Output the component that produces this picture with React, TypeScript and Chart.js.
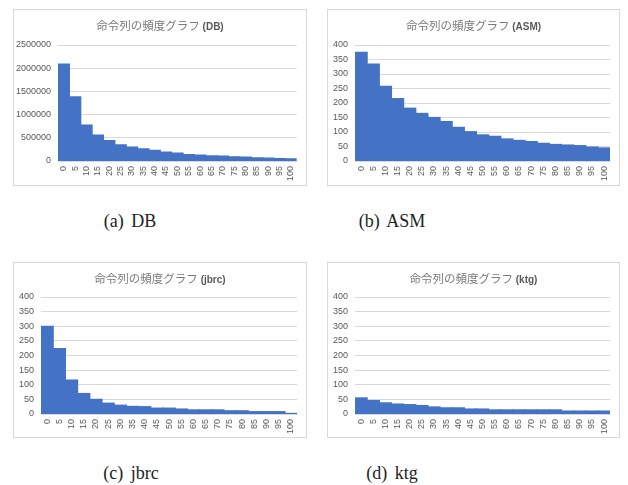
import React, { useEffect, useRef } from "react";
import { Chart, registerables } from "chart.js";

Chart.register(...registerables);

const CATEGORIES = ["0", "5", "10", "15", "20", "25", "30", "35", "40", "45", "50", "55", "60", "65", "70", "75", "80", "85", "90", "95", "100"];

const DB_VALUES = [2090000, 1380000, 776000, 560000, 440000, 350000, 300000, 260000, 230000, 190000, 170000, 140000, 125000, 110000, 105000, 90000, 85000, 70000, 65000, 50000, 45000];
const ASM_VALUES = [375, 334, 257, 215, 182, 164, 150, 136, 116, 101, 90, 85, 76, 71, 67, 61, 57, 55, 53, 48, 45];
const JBRC_VALUES = [300, 224, 116, 70, 50, 37, 30, 26, 25, 20, 20, 17, 14, 14, 14, 11, 11, 8, 8, 8, 2];
const KTG_VALUES = [55, 46, 38, 34, 32, 29, 24, 21, 21, 17, 17, 14, 14, 14, 14, 14, 14, 10, 10, 10, 10];

const TITLE_PREFIX = "命令列の頻度グラフ";
const TICK_FONT = { family: "'Liberation Sans', Arial, sans-serif", size: 9 };
const TICK_COLOR = "#595959";
const GRID_COLOR = "#d9d9d9";
const BAR_COLOR = "#4472C4";

type PanelProps = {
  name: string;
  values: number[];
  yMax: number;
  step: number;
  left: number;
  top: number;
  width: number;
  height: number;
  plotLeft: number;
  plotRight: number;
  plotTop: number;
  plotBottom: number;
};

function Panel(p: PanelProps) {
  const ref = useRef<HTMLCanvasElement | null>(null);
  useEffect(() => {
    if (!ref.current) return;
    const yWidth = p.plotLeft;
    const xHeight = p.height - p.plotBottom;
    const chart = new Chart(ref.current, {
      type: "bar",
      data: {
        labels: CATEGORIES,
        datasets: [
          {
            data: p.values,
            backgroundColor: BAR_COLOR,
            borderWidth: 0,
            inflateAmount: 0.6,
            barPercentage: 1,
            categoryPercentage: 1,
          },
        ],
      },
      options: {
        responsive: false,
        animation: false,
        devicePixelRatio: 1,
        layout: {
          padding: { left: 0, right: p.width - p.plotRight, top: p.plotTop, bottom: 0 },
        },
        plugins: {
          legend: { display: false },
          title: { display: false },
          tooltip: { enabled: false },
        },
        scales: {
          x: {
            grid: { display: false, drawTicks: false },
            border: { display: true, color: GRID_COLOR },
            ticks: {
              minRotation: 90,
              maxRotation: 90,
              autoSkip: false,
              padding: 5,
              color: TICK_COLOR,
              font: TICK_FONT,
            },
            afterFit: (s: any) => {
              s.height = xHeight;
            },
          },
          y: {
            min: 0,
            max: p.yMax,
            grid: { color: GRID_COLOR, drawTicks: false },
            border: { display: false },
            ticks: {
              stepSize: p.step,
              padding: 7,
              color: TICK_COLOR,
              font: TICK_FONT,
              callback: (v: any) => String(v),
            },
            afterFit: (s: any) => {
              s.width = yWidth;
            },
          },
        },
      },
    });
    return () => chart.destroy();
  }, []);

  return (
    <>
      <div
        style={{
          position: "absolute",
          left: p.left,
          top: p.top,
          width: p.width,
          height: p.height,
          border: "1px solid #d9d9d9",
          boxSizing: "border-box",
        }}
      />
      <canvas
        ref={ref}
        width={p.width}
        height={p.height}
        style={{ position: "absolute", left: p.left, top: p.top, width: p.width, height: p.height }}
      />
      <div
        style={{
          position: "absolute",
          left: p.left,
          top: p.top + 8,
          width: p.width,
          height: 16,
          lineHeight: "16px",
          textAlign: "center",
          whiteSpace: "nowrap",
        }}
      >
        <span style={{ fontFamily: "'Noto Sans CJK JP', sans-serif", fontSize: 11.5, color: "#7a7a7a" }}>
          {TITLE_PREFIX}
        </span>
        <span style={{ fontFamily: "'Liberation Sans', Arial, sans-serif", fontSize: 10, color: "#595959", fontWeight: "bold" }}>
          {" (" + p.name + ")"}
        </span>
      </div>
    </>
  );
}

function Caption({ text, cx, cy }: { text: string; cx: number; cy: number }) {
  return (
    <div
      style={{
        position: "absolute",
        left: cx - 60,
        top: cy - 11,
        width: 120,
        height: 22,
        lineHeight: "22px",
        textAlign: "center",
        fontFamily: "'Liberation Serif', serif",
        fontSize: 18,
        wordSpacing: 3,
        color: "#222",
        whiteSpace: "nowrap",
      }}
    >
      {text}
    </div>
  );
}

export default function App() {
  return (
    <div style={{ position: "absolute", left: 0, top: 0, width: 628, height: 485, background: "#fff", overflow: "hidden" }}>
      <Panel name="DB" values={DB_VALUES} yMax={2500000} step={500000}
        left={13} top={9} width={294} height={177} plotLeft={45} plotRight={285} plotTop={36} plotBottom={152} />
      <Panel name="ASM" values={ASM_VALUES} yMax={400} step={50}
        left={327} top={9} width={293} height={177} plotLeft={28} plotRight={286} plotTop={36} plotBottom={152} />
      <Panel name="jbrc" values={JBRC_VALUES} yMax={400} step={50}
        left={13} top={262} width={294} height={176} plotLeft={28} plotRight={285} plotTop={35} plotBottom={152} />
      <Panel name="ktg" values={KTG_VALUES} yMax={400} step={50}
        left={327} top={262} width={293} height={176} plotLeft={28} plotRight={286} plotTop={35} plotBottom={152} />
      <Caption text="(a) DB" cx={130} cy={221} />
      <Caption text="(b) ASM" cx={392} cy={221} />
      <Caption text="(c) jbrc" cx={131} cy={473} />
      <Caption text="(d) ktg" cx={392} cy={473} />
    </div>
  );
}
